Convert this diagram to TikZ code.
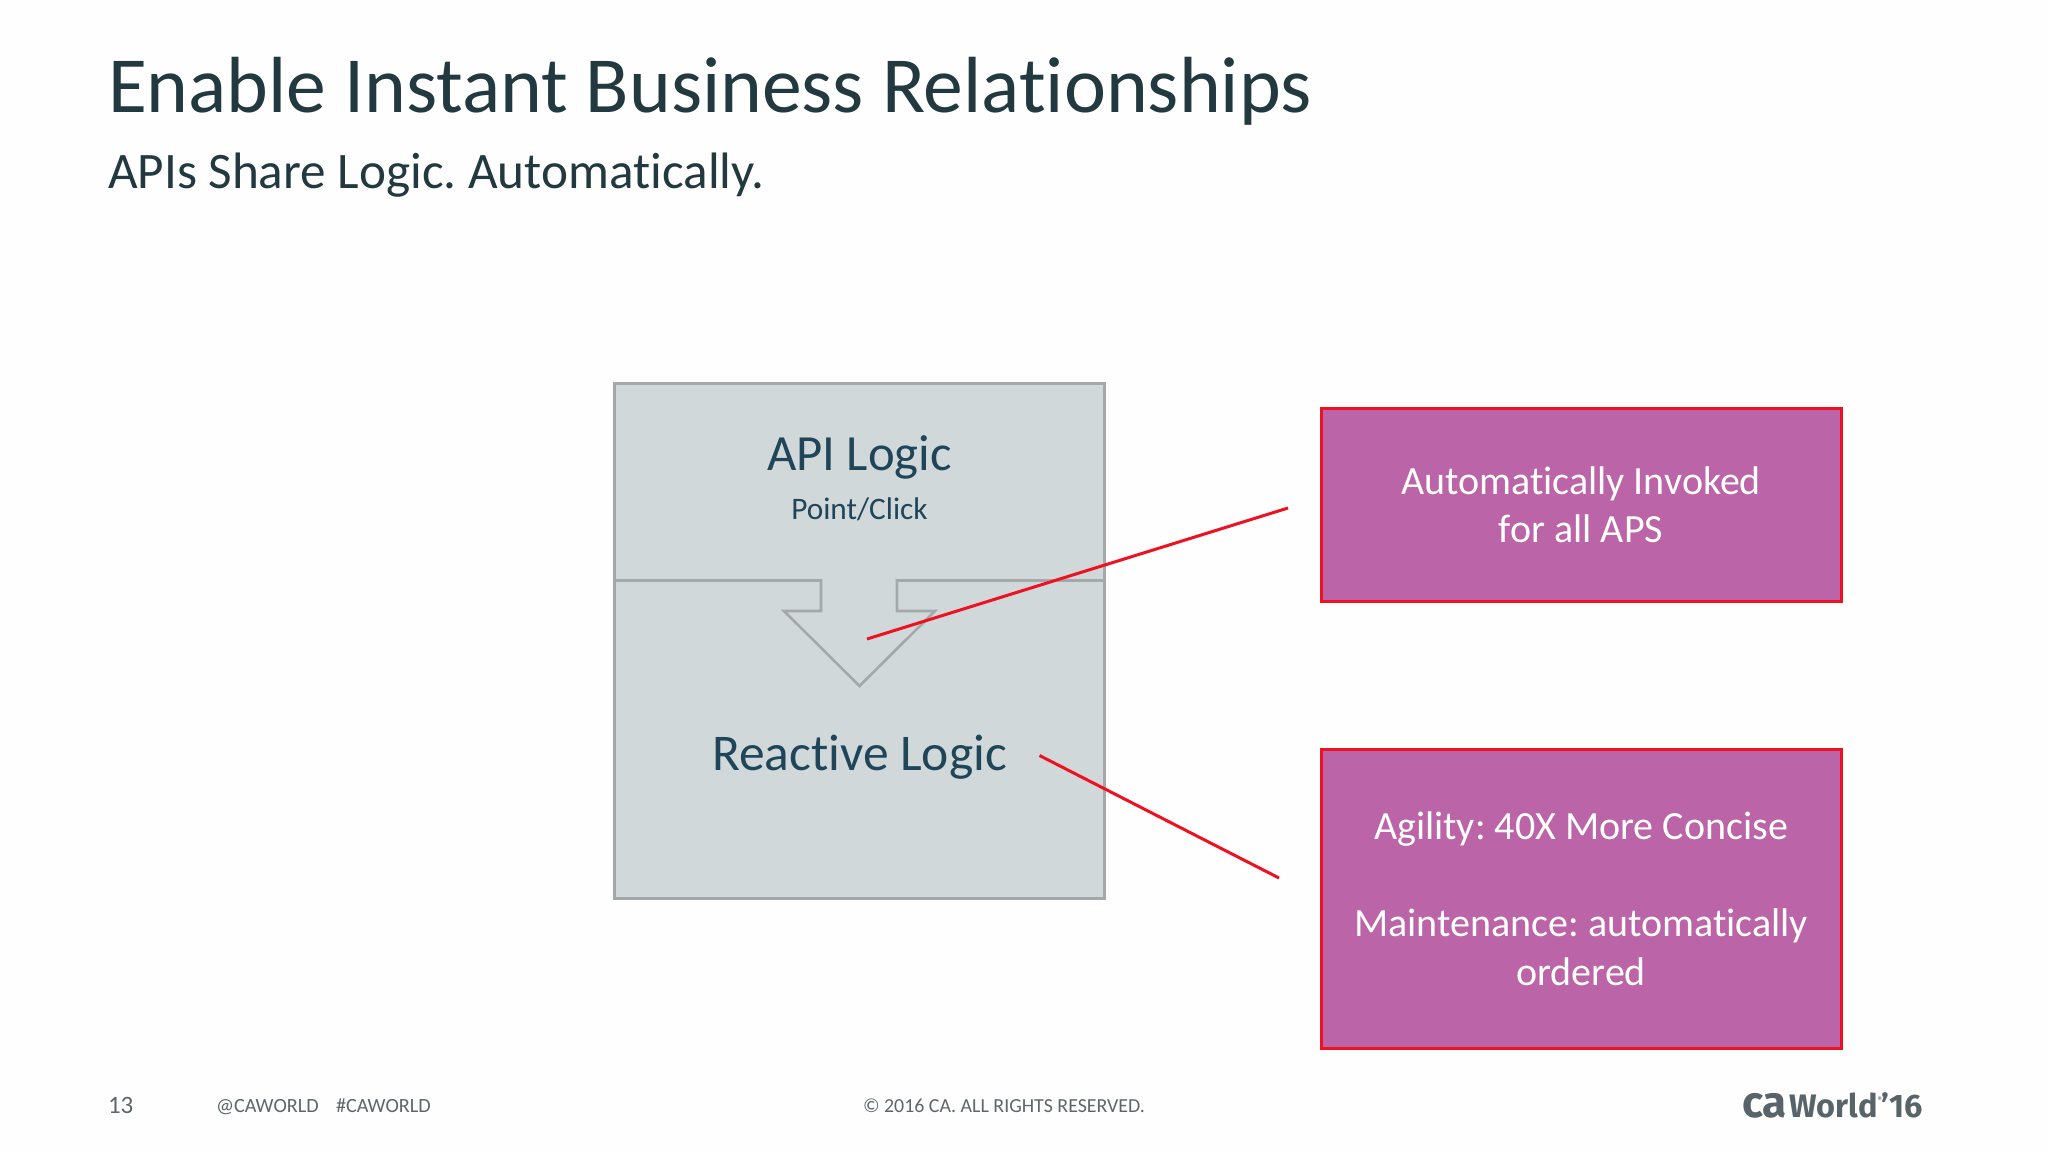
\documentclass[tikz,border=0pt]{standalone}
\usepackage{fontspec}
\setmainfont[Ligatures=NoCommon]{Carlito}
\newfontfamily\logofont{Fira Sans}
\frenchspacing
\definecolor{pagebg}{HTML}{FEFEFE}
\definecolor{titlecol}{HTML}{22393F}
\definecolor{inkblue}{HTML}{204559}
\definecolor{panelfill}{HTML}{D0D8D9}
\definecolor{panelline}{HTML}{A5A8A9}
\definecolor{pinkfill}{HTML}{BB65A8}
\definecolor{redline}{HTML}{EE1122}
\definecolor{footgrey}{HTML}{5F6669}
\definecolor{logogrey}{HTML}{58646A}
\newcommand{\fsz}[1]{\fontsize{#1}{#1}\selectfont}
\tikzset{
  x=1pt,y=-1pt,
  txt/.style={inner sep=0pt,outer sep=0pt,anchor=base},
  txtl/.style={inner sep=0pt,outer sep=0pt,anchor=base west},
  panel/.style={draw=panelline,line width=3pt,fill=panelfill,minimum width=489.5pt,minimum height=515.5pt,inner sep=0pt,outer sep=0pt,anchor=north west},
  callout/.style={draw=redline,line width=3pt,fill=pinkfill,minimum width=520pt,inner sep=0pt,outer sep=0pt,anchor=north west,text=white,align=flush center,text width=500pt,font=\fontsize{40}{48.5}\selectfont},
  leader/.style={draw=redline,line width=3pt},
  divider/.style={draw=panelline,line width=2.6pt,line join=miter},
  foot/.style={txtl,text=footgrey,font=\fsz{20.2}}
}
\begin{document}
\begin{tikzpicture}
\path[use as bounding box,fill=pagebg] (0,0) rectangle (2048,1152);
\node[txtl,text=titlecol,font=\fsz{79.6}] (title) at (108,112) {Enable Instant Business Relationships};
\node[txtl,text=titlecol,font=\fsz{51.2}] (subtitle) at (108,188) {APIs Share Logic. Automatically.};
\node[panel] (panel) at (614.5,383) {};
\draw[divider] (panel.west |- 0,580.5) -- (821,580.5) -- (821,611) -- (784,611) -- (859.5,686) -- (935,611) -- (897,611) -- (897,580.5) -- (panel.east |- 0,580.5);
\node[txt,text=inkblue,font=\fsz{50.7}] (api) at (859.5,470) {API Logic};
\node[txt,text=inkblue,font=\fsz{31.3}] (point) at (859.5,519) {Point/Click};
\node[txt,text=inkblue,font=\fsz{51.5}] (reactive) at (859.5,770) {Reactive Logic};
\node[callout,minimum height=193pt] (boxa) at (1321,408) {Automatically Invoked\\for all APS};
\node[callout,minimum height=299pt] (boxb) at (1321,749) {Agility: 40X More Concise\\[48.5pt]Maintenance: automatically\\ordered};
\coordinate (la1) at (867,639);
\coordinate (la2) at (1288,508);
\coordinate (lb1) at (1039.5,755.5);
\coordinate (lb2) at (1279,878);
\draw[leader] (la1) -- (la2);
\draw[leader] (lb1) -- (lb2);
\node[foot,font=\fsz{25}] (page) at (108,1113.5) {13};
\node[foot] (at) at (216,1112) {@CAWORLD};
\node[foot] (hash) at (336,1112) {\#CAWORLD};
\node[foot,font=\fsz{19.9}] (copy) at (863,1112) {© 2016 CA. ALL RIGHTS RESERVED.};
\node[txtl,text=logogrey,font={\logofont\bfseries\fsz{32.5}}] (logo) at (1742,1117) {{\fsz{44}ca}\hspace{3pt}World\raisebox{16pt}{\fsz{6}®}’16};
\end{tikzpicture}
\end{document}
